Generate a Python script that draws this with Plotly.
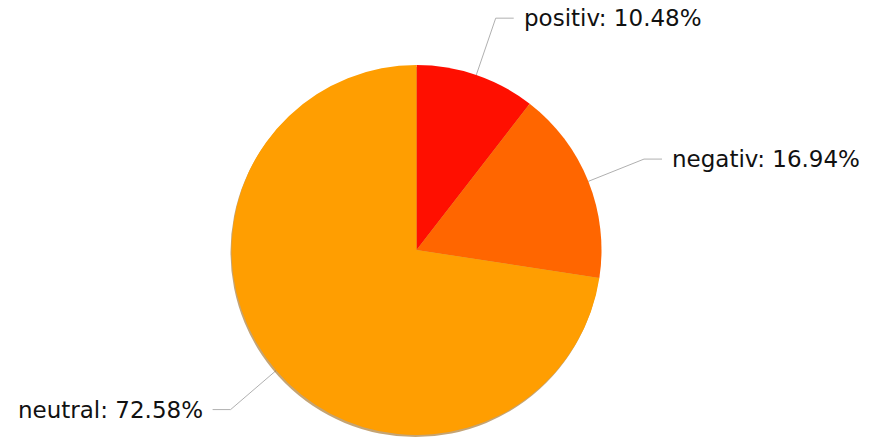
import math
import plotly.graph_objects as go

labels = ["positiv", "negativ", "neutral"]
values = [10.48, 16.94, 72.58]
colors = ["#FF0F00", "#FF6600", "#FF9E01"]

W, H = 870, 440
CX, CY, R = 416.5, 250, 185
LINE_LEN, HOR_LEN, GAP = 60, 18, 8
FONT = "DejaVu Sans"

fig = go.Figure()

# shadow
fig.add_trace(go.Pie(
    values=[1], marker=dict(colors=["rgba(150,90,0,0.55)"]), textinfo="none",
    hoverinfo="skip", showlegend=False, sort=False,
    domain=dict(x=[(CX - R - 1) / W, (CX + R - 1) / W],
                y=[(H - CY - R - 2) / H, (H - CY + R - 2) / H]),
))

fig.add_trace(go.Pie(
    labels=labels, values=values, marker=dict(colors=colors),
    textinfo="none", sort=False, direction="clockwise", rotation=0,
    showlegend=False,
    domain=dict(x=[(CX - R) / W, (CX + R) / W],
                y=[(H - CY - R) / H, (H - CY + R) / H]),
))

total = sum(values)
cum = 0
for lab, v in zip(labels, values):
    mid = (cum + v / 2) / total * 2 * math.pi
    cum += v
    sx, sy = math.sin(mid), -math.cos(mid)
    x0, y0 = CX + R * sx, CY + R * sy
    x1, y1 = CX + (R + LINE_LEN) * sx, CY + (R + LINE_LEN) * sy
    side = 1 if sx >= 0 else -1
    x2 = x1 + side * HOR_LEN
    fig.add_trace(go.Scatter(
        x=[x0, x1, x2], y=[y0, y1, y1], mode="lines",
        line=dict(color="#b0b0b0", width=1), hoverinfo="skip", showlegend=False,
    ))
    fig.add_annotation(
        x=x2 + side * GAP, y=y1, xref="x", yref="y",
        text=f"{lab}: {v:.2f}%", showarrow=False,
        xanchor="left" if side > 0 else "right", yanchor="middle",
        font=dict(family=FONT, size=23, color="#111111"),
    )

fig.update_layout(
    width=W, height=H, margin=dict(l=0, r=0, t=0, b=0),
    paper_bgcolor="white", plot_bgcolor="rgba(0,0,0,0)",
    xaxis=dict(range=[0, W], visible=False, fixedrange=True),
    yaxis=dict(range=[H, 0], visible=False, fixedrange=True),
)

fig.write_html("out.html", config={"displayModeBar": False},
               post_script="document.body.style.margin='0px';")
